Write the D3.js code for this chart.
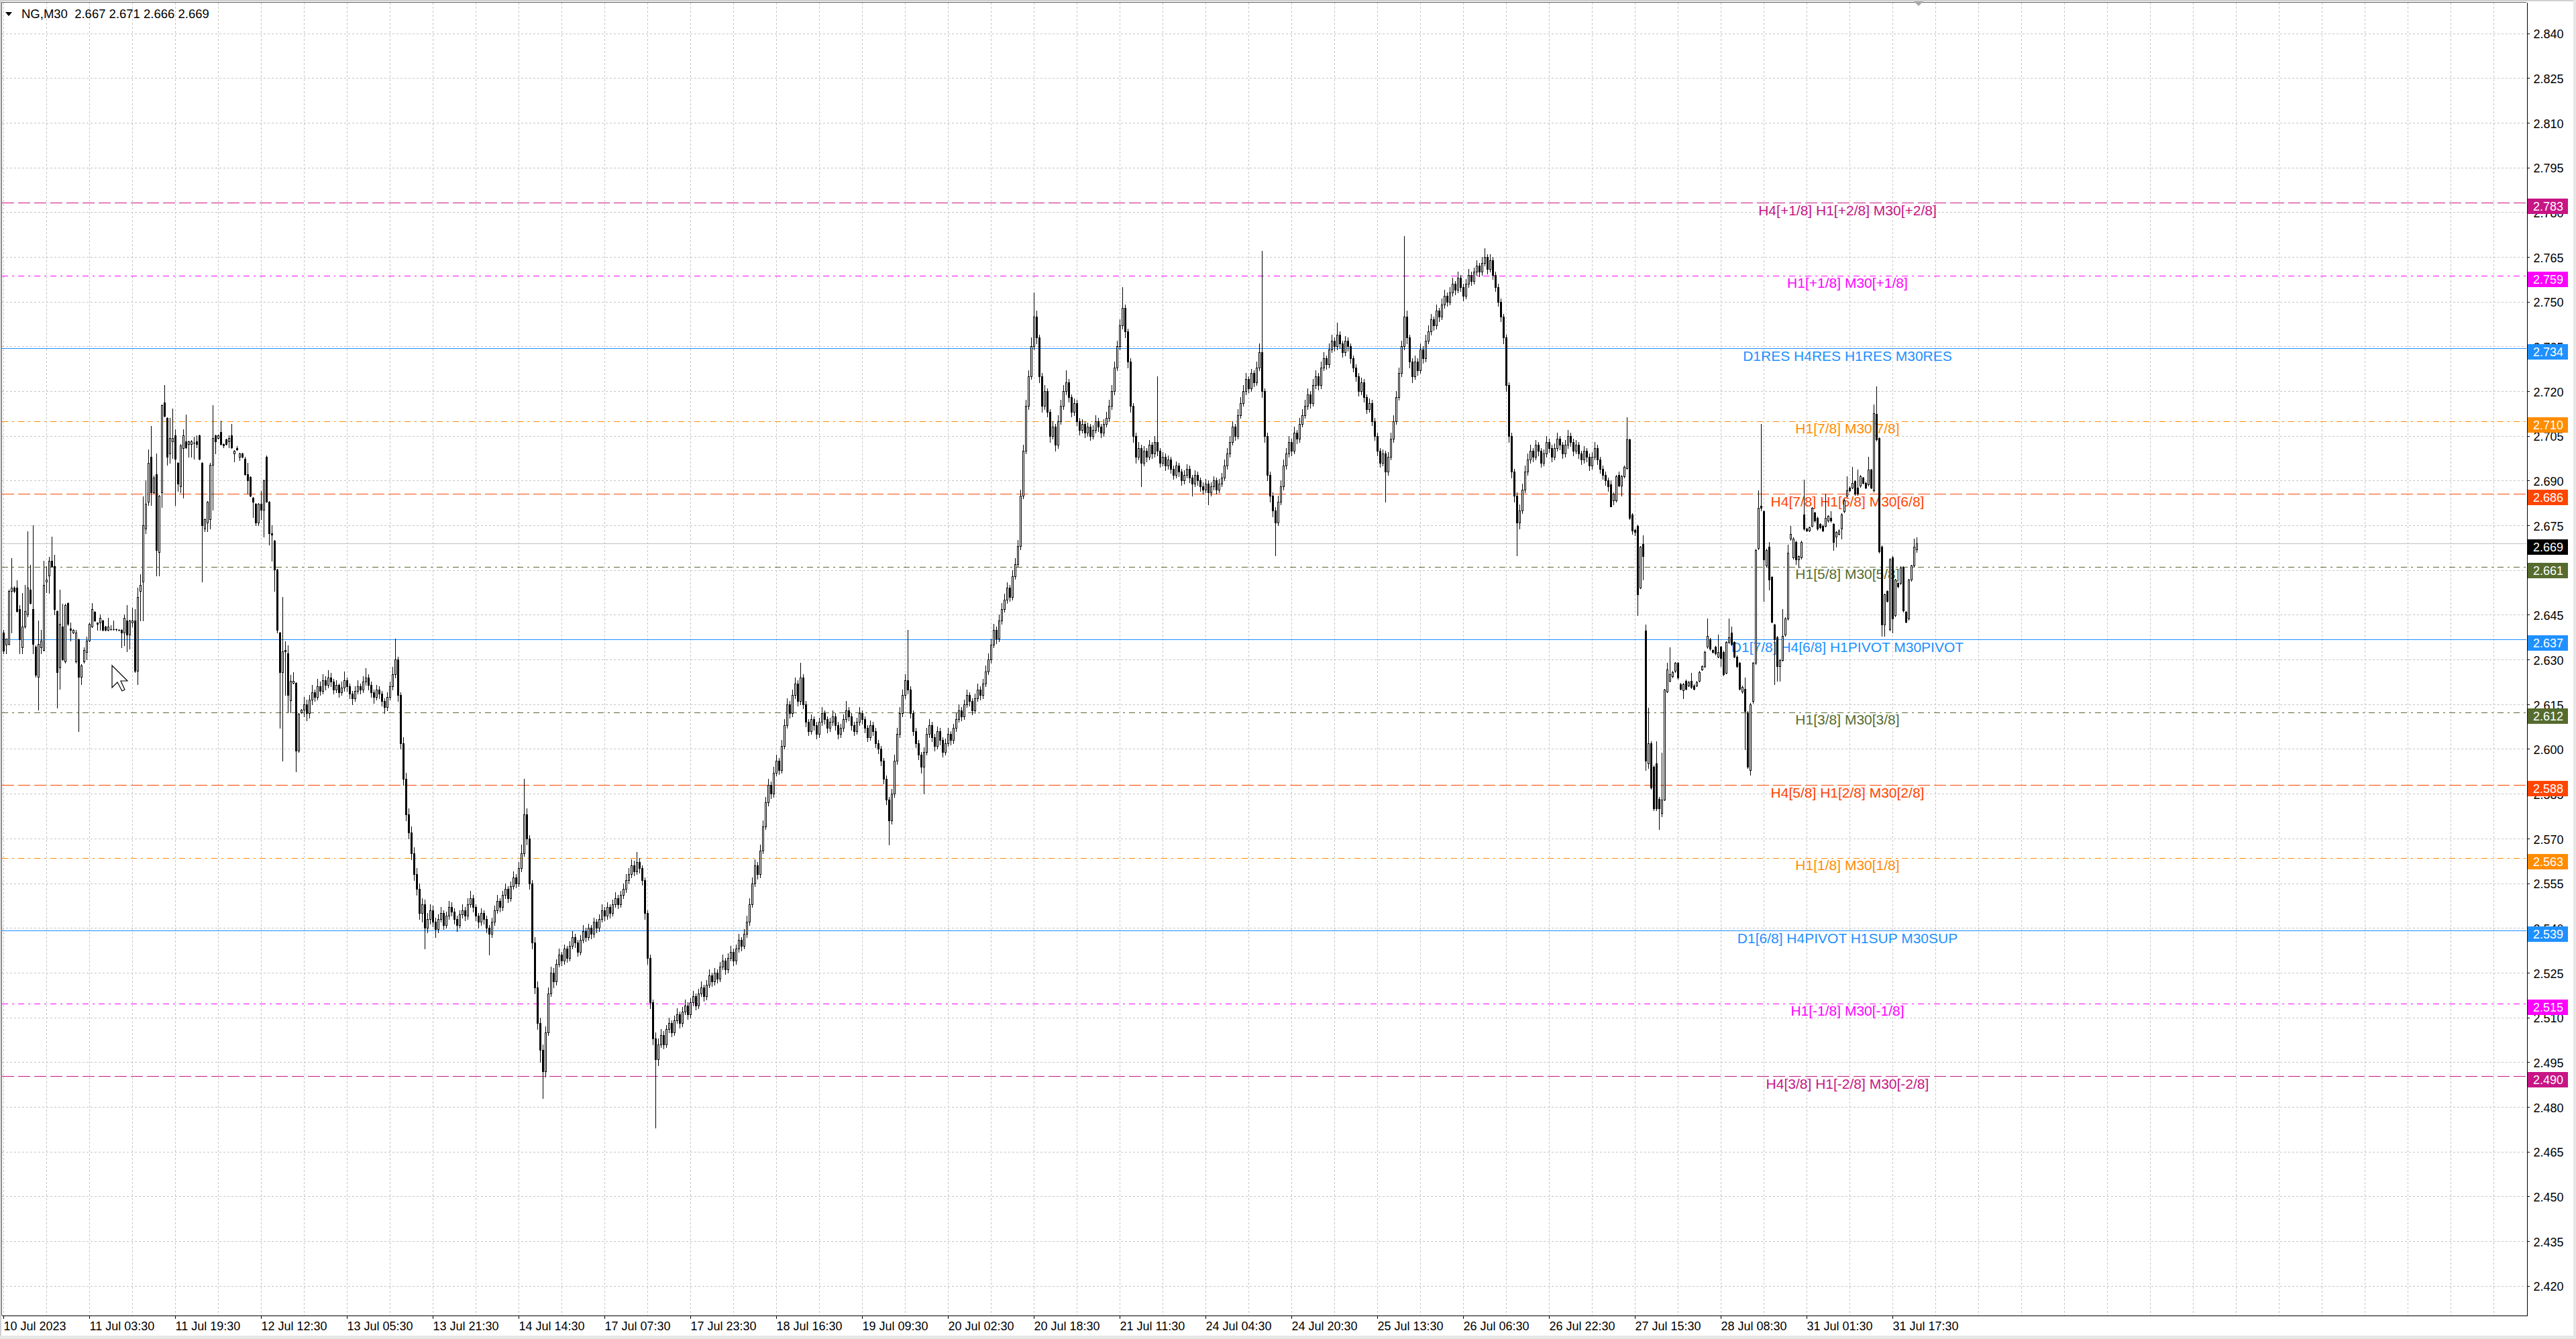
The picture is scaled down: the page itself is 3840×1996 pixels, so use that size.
<!DOCTYPE html>
<html><head><meta charset="utf-8">
<script src="https://cdn.jsdelivr.net/npm/d3@7"></script>
<style>
html,body{margin:0;padding:0;background:#fff;}
svg{display:block;}
</style></head><body>
<svg id="chart" width="3840" height="1996"></svg>
<script>
// ---------------- data ----------------
const symbolTitle = "NG,M30";
const lastOHLC = [2.667, 2.671, 2.666, 2.669];
const currentPrice = 2.669;

const timeLabels = ["10 Jul 2023","11 Jul 03:30","11 Jul 19:30","12 Jul 12:30","13 Jul 05:30","13 Jul 21:30",
  "14 Jul 14:30","17 Jul 07:30","17 Jul 23:30","18 Jul 16:30","19 Jul 09:30","20 Jul 02:30","20 Jul 18:30",
  "21 Jul 11:30","24 Jul 04:30","24 Jul 20:30","25 Jul 13:30","26 Jul 06:30","26 Jul 22:30","27 Jul 15:30",
  "28 Jul 08:30","31 Jul 01:30","31 Jul 17:30"];

const priceTicks = [2.420,2.435,2.450,2.465,2.480,2.495,2.510,2.525,2.540,2.555,2.570,2.585,2.600,2.615,
  2.630,2.645,2.660,2.675,2.690,2.705,2.720,2.735,2.750,2.765,2.780,2.795,2.810,2.825,2.840];

const levelValues = [2.783203125,2.7587890625,2.734375,2.7099609375,2.685546875,2.6611328125,2.63671875,
  2.6123046875,2.587890625,2.5634765625,2.5390625,2.5146484375,2.490234375];
const levelOctaves = ["+2/8","+1/8","8/8","7/8","6/8","5/8","4/8","3/8","2/8","1/8","0/8","-1/8","-2/8"];
const levelNames = ["H4[+1/8] H1[+2/8] M30[+2/8]","H1[+1/8] M30[+1/8]","D1RES H4RES H1RES M30RES",
  "H1[7/8] M30[7/8]","H4[7/8] H1[6/8] M30[6/8]","H1[5/8] M30[5/8]","D1[7/8] H4[6/8] H1PIVOT M30PIVOT",
  "H1[3/8] M30[3/8]","H4[5/8] H1[2/8] M30[2/8]","H1[1/8] M30[1/8]","D1[6/8] H4PIVOT H1SUP M30SUP",
  "H1[-1/8] M30[-1/8]","H4[3/8] H1[-2/8] M30[-2/8]"];

// M30 candles, oldest first (714 bars)
const opens = [
2.639,2.635,2.6352,2.6530,2.6541,2.6541,2.6470,2.6340,2.6411,2.6451,
2.6534,2.6470,2.6344,2.6241,2.6340,2.6332,2.6561,2.6581,2.6632,2.6613,
2.6462,2.6273,2.6411,2.6293,2.6490,2.6403,2.6391,2.6293,2.6368,2.6241,
2.6293,2.6324,2.6364,2.6411,2.6459,2.6423,2.6423,2.6431,2.6411,2.6399,
2.6402,2.6401,2.6401,2.6400,2.6399,2.6391,2.6431,2.6383,2.6423,2.6431,
2.6261,2.6530,2.6561,2.6739,2.6830,2.6980,2.6861,2.6921,2.6660,2.6861,
2.7162,2.7110,2.6992,2.7031,2.7051,2.6960,2.6881,2.7008,2.7031,2.7023,
2.7023,2.7027,2.7031,2.7051,2.6960,2.6739,2.6759,2.6771,2.6952,2.7051,
2.7043,2.7063,2.7023,2.7039,2.7031,2.7051,2.6992,2.7008,2.6980,2.6992,
2.6972,2.6921,2.6913,2.6842,2.6822,2.6759,2.6822,2.6802,2.6980,2.6830,
2.6723,2.6699,2.6601,2.6391,2.6257,2.6332,2.6320,2.6162,2.6222,2.6222,
2.5995,2.6123,
2.6131,2.6150,2.6120,2.6165,2.6190,2.6175,2.6210,2.6195,2.6230,2.6215,
2.6240,2.6225,2.6200,2.6215,2.6190,2.6205,2.6230,2.6210,2.6185,2.6170,
2.6195,2.6210,2.6200,2.6225,2.6240,2.6215,2.6190,2.6175,2.6200,2.6185,
2.6160,2.6140,2.6175,2.6210,2.6250,2.6300,2.6180,2.6020,2.5900,2.5780,
2.5720,2.5650,2.5580,2.5530,2.5450,2.5480,2.5400,2.5430,2.5460,2.5420,
2.5395,2.5430,2.5450,2.5410,2.5440,2.5470,2.5455,2.5430,2.5410,2.5445,
2.5460,2.5440,2.5480,2.5500,2.5470,2.5440,2.5420,2.5450,2.5430,2.5400,
2.5380,2.5420,2.5460,2.5490,2.5470,2.5510,2.5530,2.5500,2.5540,2.5570,
2.5550,2.5600,2.5650,2.5780,2.5700,2.5550,2.5350,2.5200,2.5080,2.4990,
2.4920,2.5050,2.5180,2.5250,2.5220,2.5280,2.5310,2.5290,2.5330,2.5300,
2.5340,2.5370,2.5350,2.5320,2.5360,2.5390,2.5370,2.5400,2.5380,2.5420,
2.5400,2.5430,2.5460,2.5440,2.5470,2.5450,2.5480,2.5500,2.5480,2.5510,
2.5530,2.5560,2.5580,2.5610,2.5590,2.5620,2.5600,2.5560,2.5450,2.5300,
2.5150,2.5030,2.4960,2.5010,2.5040,2.5010,2.5060,2.5080,2.5050,2.5090,
2.5110,2.5080,2.5120,2.5140,2.5110,2.5150,2.5170,2.5140,2.5180,2.5200,
2.5170,2.5210,2.5240,2.5220,2.5250,2.5230,2.5270,2.5290,2.5260,2.5300,
2.5320,2.5290,2.5330,2.5360,2.5340,2.5380,2.5420,2.5480,2.5550,2.5610,
2.5580,2.5660,2.5740,2.5820,2.5880,2.5850,2.5920,2.5960,2.5930,2.6010,
2.6080,2.6150,2.6120,2.6180,2.6220,2.6160,2.6240,2.6150,2.6090,2.6060,
2.6100,2.6080,2.6050,2.6090,2.6120,2.6100,2.6070,2.6090,2.6110,2.6080,
2.6050,2.6070,2.6100,2.6130,2.6110,2.6080,2.6060,2.6090,2.6120,2.6100,
2.6070,2.6040,2.6080,2.6060,2.6020,2.6000,2.5960,2.5900,2.5830,2.5760,
2.5850,2.5960,2.6050,2.6120,2.6180,2.6230,2.6200,2.6120,2.6060,2.6020,
2.5980,2.5940,2.5990,2.6050,2.6080,2.6040,2.6010,2.6060,2.6030,2.5990,
2.6020,2.6050,2.6030,2.6070,2.6100,2.6130,2.6110,2.6150,2.6180,2.6160,
2.6130,2.6170,2.6200,2.6180,2.6220,2.6260,2.6300,2.6350,2.6400,2.6370,
2.6430,2.6470,2.6500,2.6540,2.6510,2.6580,2.6620,2.6680,2.6850,2.7000,
2.7150,2.7250,2.7350,2.7450,2.7380,2.7250,2.7150,2.7200,2.7130,2.7050,
2.7080,2.7020,2.7100,2.7150,2.7200,2.7230,2.7180,2.7130,2.7160,2.7100,
2.7070,2.7090,2.7060,2.7080,2.7050,2.7070,2.7100,2.7080,2.7060,2.7090,
2.7110,2.7150,2.7200,2.7280,2.7350,2.7420,2.7480,2.7400,2.7300,2.7150,
2.7050,2.6980,2.7010,2.6960,2.7000,2.6980,2.7020,2.6990,2.7030,2.7000,
2.6960,2.6980,2.6950,2.6970,2.6940,2.6920,2.6950,2.6930,2.6900,2.6920,
2.6940,2.6910,2.6890,2.6920,2.6900,2.6880,2.6870,2.6890,2.6860,2.6880,
2.6900,2.6870,2.6890,2.6910,2.6950,2.6990,2.7030,2.7080,2.7050,2.7120,
2.7160,2.7200,2.7240,2.7210,2.7260,2.7230,2.7280,2.7330,2.7200,2.7050,
2.6920,2.6850,2.6800,2.6760,2.6830,2.6880,2.6950,2.6990,2.7030,2.7000,
2.7060,2.7040,2.7090,2.7120,2.7150,2.7190,2.7160,2.7220,2.7250,2.7220,
2.7280,2.7310,2.7290,2.7340,2.7370,2.7350,2.7390,2.7360,2.7330,2.7370,
2.7350,2.7310,2.7280,2.7250,2.7200,2.7230,2.7180,2.7140,2.7160,2.7100,
2.7050,2.7000,2.6960,2.6990,2.6930,2.6980,2.7040,2.7100,2.7180,2.7260,
2.7350,2.7450,2.7380,2.7300,2.7250,2.7300,2.7270,2.7340,2.7310,2.7370,
2.7400,2.7440,2.7420,2.7470,2.7450,2.7490,2.7520,2.7500,2.7530,2.7560,
2.7540,2.7580,2.7550,2.7520,2.7560,2.7590,2.7570,2.7600,2.7620,2.7600,
2.7630,2.7650,2.7610,2.7640,2.7590,2.7550,2.7500,2.7450,2.7380,2.7220,
2.7050,2.6930,2.6850,2.6760,2.6800,2.6870,2.6930,2.6970,2.7000,2.6980,
2.7020,2.7000,2.6960,2.6990,2.7030,2.7010,2.6980,2.7010,2.7040,2.7020,
2.6990,2.7020,2.7050,2.7030,2.7000,2.7020,2.6990,2.6970,2.7000,2.6980,
2.6950,2.6980,2.7010,2.6970,2.6940,2.6920,2.6900,
2.6888,2.6834,2.6834,2.6920,2.6883,2.6915,2.6942,2.7038,2.6786,2.6735,
2.6749,2.6540,2.6687,2.6397,2.5951,2.6020,2.5940,2.5951,2.5833,2.5785,
2.5831,2.6192,2.6229,2.6245,2.6261,2.6288,2.6218,2.6197,2.6229,2.6213,
2.6229,2.6213,2.6213,2.6229,2.6267,2.6277,2.6342,2.6368,2.6331,2.6342,
2.6310,2.6342,2.6326,2.6256,2.6358,2.6390,2.6358,2.6310,2.6288,2.6192,
2.6202,2.6122,2.5929,2.6160,2.6288,2.6674,2.6815,2.6797,2.6615,2.6679,
2.6577,2.6417,2.6374,2.6277,2.6299,2.6384,2.6438,2.6706,2.6642,2.6695,
2.6636,2.6642,2.6786,2.6738,2.6733,2.6749,2.6792,2.6775,2.6754,2.6749,
2.6749,2.6765,2.6775,2.6754,2.6711,2.6722,2.6738,2.6797,2.6850,2.6877,
2.6877,2.6899,2.6877,2.6883,2.6909,2.6893,2.6888,2.6936,2.6867,2.7124,
2.7043,2.6679,2.6417,2.6529,2.6401,2.6642,2.6449,2.6556,2.6556,2.6609,
2.6459,2.6438,2.6567,2.6615,2.667];

const highs = [
2.640,2.637,2.6535,2.6640,2.6545,2.6565,2.6482,2.6522,2.6549,2.6731,
2.6617,2.6751,2.6348,2.6431,2.6399,2.6632,2.6613,2.6644,2.6711,2.6652,
2.6465,2.6534,2.6486,2.6486,2.6492,2.6423,2.6401,2.6399,2.6370,2.6285,
2.6340,2.6376,2.6423,2.6490,2.6462,2.6425,2.6451,2.6433,2.6413,2.6439,
2.6415,2.6431,2.6404,2.6402,2.6401,2.6451,2.6482,2.6433,2.6474,2.6470,
2.6541,2.6585,2.6846,2.6901,2.7004,2.7083,2.6917,2.6992,2.6852,2.7156,
2.7221,2.7112,2.7110,2.7142,2.7071,2.6962,2.7023,2.7071,2.7122,2.7033,
2.7035,2.7047,2.7051,2.7053,2.6962,2.6773,2.6832,2.6960,2.7154,2.7053,
2.7053,2.7102,2.7025,2.7041,2.7051,2.7091,2.7002,2.7015,2.6994,2.6994,
2.6980,2.6960,2.6915,2.6844,2.6824,2.6824,2.6865,2.6903,2.6984,2.6832,
2.6751,2.6701,2.6603,2.6393,2.6510,2.6360,2.6348,2.6249,2.6257,2.6224,
2.6121,2.6133,
2.6175,2.6165,2.6180,2.6215,2.6200,2.6235,2.6225,2.6250,2.6245,2.6265,
2.6255,2.6235,2.6230,2.6220,2.6225,2.6260,2.6240,2.6220,2.6195,2.6210,
2.6230,2.6220,2.6245,2.6270,2.6250,2.6225,2.6200,2.6215,2.6210,2.6195,
2.6170,2.6190,2.6225,2.6275,2.6370,2.6310,2.6190,2.6040,2.5920,2.5800,
2.5740,2.5670,2.5600,2.5550,2.5500,2.5495,2.5450,2.5480,2.5475,2.5435,
2.5445,2.5470,2.5460,2.5455,2.5490,2.5485,2.5465,2.5440,2.5460,2.5480,
2.5470,2.5500,2.5525,2.5510,2.5480,2.5450,2.5465,2.5460,2.5440,2.5410,
2.5435,2.5475,2.5510,2.5500,2.5525,2.5550,2.5540,2.5555,2.5590,2.5580,
2.5620,2.5680,2.5900,2.5800,2.5710,2.5560,2.5370,2.5220,2.5100,2.5010,
2.5070,2.5200,2.5270,2.5265,2.5295,2.5330,2.5320,2.5345,2.5340,2.5355,
2.5390,2.5380,2.5360,2.5375,2.5410,2.5400,2.5415,2.5410,2.5435,2.5430,
2.5445,2.5480,2.5470,2.5485,2.5480,2.5495,2.5520,2.5510,2.5525,2.5550,
2.5580,2.5600,2.5630,2.5625,2.5655,2.5635,2.5610,2.5570,2.5460,2.5310,
2.5160,2.5050,2.5030,2.5060,2.5055,2.5075,2.5100,2.5090,2.5105,2.5130,
2.5120,2.5135,2.5160,2.5150,2.5165,2.5190,2.5180,2.5195,2.5220,2.5210,
2.5225,2.5260,2.5250,2.5265,2.5260,2.5285,2.5310,2.5300,2.5315,2.5340,
2.5330,2.5345,2.5380,2.5370,2.5395,2.5440,2.5500,2.5570,2.5630,2.5620,
2.5680,2.5760,2.5840,2.5900,2.5890,2.5940,2.5980,2.5970,2.6030,2.6100,
2.6170,2.6160,2.6200,2.6240,2.6230,2.6290,2.6250,2.6160,2.6100,2.6115,
2.6110,2.6090,2.6105,2.6140,2.6130,2.6110,2.6105,2.6130,2.6120,2.6090,
2.6085,2.6115,2.6160,2.6140,2.6120,2.6090,2.6105,2.6140,2.6130,2.6110,
2.6080,2.6095,2.6090,2.6070,2.6030,2.6010,2.5970,2.5910,2.5840,2.5865,
2.5980,2.6070,2.6140,2.6200,2.6250,2.6400,2.6210,2.6130,2.6070,2.6030,
2.5990,2.6005,2.6070,2.6100,2.6090,2.6050,2.6075,2.6070,2.6040,2.6035,
2.6070,2.6060,2.6085,2.6120,2.6150,2.6140,2.6165,2.6200,2.6190,2.6170,
2.6185,2.6220,2.6210,2.6235,2.6280,2.6320,2.6370,2.6420,2.6410,2.6450,
2.6490,2.6520,2.6560,2.6550,2.6600,2.6640,2.6700,2.6870,2.7020,2.7170,
2.7270,2.7380,2.7530,2.7470,2.7390,2.7260,2.7220,2.7210,2.7140,2.7100,
2.7090,2.7120,2.7170,2.7220,2.7270,2.7240,2.7190,2.7175,2.7170,2.7110,
2.7105,2.7100,2.7095,2.7090,2.7085,2.7120,2.7110,2.7090,2.7105,2.7130,
2.7170,2.7220,2.7300,2.7370,2.7440,2.7550,2.7490,2.7410,2.7310,2.7160,
2.7060,2.7030,2.7020,2.7015,2.7010,2.7035,2.7030,2.7050,2.7250,2.7010,
2.6995,2.6990,2.6985,2.6980,2.6950,2.6965,2.6960,2.6940,2.6935,2.6955,
2.6950,2.6920,2.6935,2.6930,2.6910,2.6895,2.6905,2.6900,2.6895,2.6915,
2.6910,2.6905,2.6925,2.6970,2.7010,2.7050,2.7100,2.7090,2.7140,2.7180,
2.7220,2.7260,2.7250,2.7275,2.7270,2.7300,2.7360,2.7670,2.7210,2.7060,
2.6930,2.6860,2.6810,2.6850,2.6900,2.6970,2.7010,2.7050,2.7040,2.7080,
2.7070,2.7110,2.7140,2.7170,2.7210,2.7200,2.7240,2.7270,2.7260,2.7300,
2.7330,2.7320,2.7360,2.7390,2.7380,2.7430,2.7400,2.7370,2.7385,2.7380,
2.7360,2.7320,2.7290,2.7260,2.7245,2.7240,2.7190,2.7175,2.7170,2.7110,
2.7060,2.7010,2.7005,2.7000,2.6995,2.7060,2.7120,2.7200,2.7280,2.7370,
2.7720,2.7470,2.7390,2.7310,2.7320,2.7310,2.7360,2.7350,2.7390,2.7420,
2.7460,2.7450,2.7490,2.7480,2.7510,2.7540,2.7530,2.7550,2.7580,2.7570,
2.7600,2.7590,2.7560,2.7575,2.7610,2.7600,2.7615,2.7640,2.7630,2.7650,
2.7680,2.7660,2.7660,2.7650,2.7600,2.7560,2.7510,2.7460,2.7390,2.7230,
2.7060,2.6940,2.6860,2.6820,2.6890,2.6950,2.6990,2.7020,2.7010,2.7035,
2.7030,2.7010,2.7005,2.7050,2.7040,2.7020,2.7025,2.7060,2.7050,2.7030,
2.7035,2.7070,2.7060,2.7040,2.7035,2.7030,2.7000,2.7015,2.7010,2.6990,
2.6995,2.7030,2.7020,2.6980,2.6950,2.6930,2.6910,
2.6900,2.6860,2.6920,2.6930,2.6920,2.6950,2.7113,2.7040,2.6790,2.6740,
2.6752,2.6681,2.6717,2.6417,2.6138,2.6025,2.5945,2.6026,2.5840,2.5988,
2.6202,2.6288,2.6340,2.6262,2.6292,2.6292,2.6222,2.6222,2.6233,2.6228,
2.6256,2.6216,2.6228,2.6262,2.6280,2.6330,2.6438,2.6372,2.6334,2.6345,
2.6384,2.6345,2.6330,2.6362,2.6438,2.6411,2.6362,2.6314,2.6292,2.6212,
2.6240,2.6126,2.6153,2.6292,2.6672,2.6867,2.7091,2.6800,2.6672,2.6695,
2.6580,2.6420,2.6378,2.6303,2.6470,2.6442,2.6684,2.6749,2.6710,2.6699,
2.6650,2.6699,2.6904,2.6741,2.6746,2.6812,2.6796,2.6779,2.6757,2.6752,
2.6856,2.6784,2.6797,2.6757,2.6730,2.6736,2.6790,2.6838,2.6915,2.6880,
2.6947,2.6902,2.6936,2.6918,2.6912,2.6896,2.6979,2.6940,2.7156,2.7215,
2.7046,2.6682,2.6521,2.6532,2.6640,2.6646,2.6570,2.6559,2.6612,2.6612,
2.6462,2.6570,2.6618,2.6706,2.671];

const lows = [
2.632,2.632,2.6350,2.6391,2.6525,2.6460,2.6320,2.6320,2.6405,2.6445,
2.6488,2.6320,2.6241,2.6131,2.6320,2.6330,2.6526,2.6522,2.6610,2.6451,
2.6139,2.6202,2.6298,2.6290,2.6415,2.6364,2.6389,2.6290,2.6060,2.6218,
2.6290,2.6301,2.6362,2.6409,2.6428,2.6399,2.6399,2.6397,2.6397,2.6397,
2.6399,2.6399,2.6398,2.6397,2.6340,2.6348,2.6328,2.6336,2.6411,2.6258,
2.6218,2.6431,2.6431,2.6723,2.6818,2.6818,2.6858,2.6581,2.6581,2.6810,
2.7115,2.6952,2.6960,2.6976,2.6818,2.6865,2.6861,2.6842,2.7010,2.6980,
2.6980,2.6972,2.7012,2.6970,2.6561,2.6731,2.6731,2.6739,2.6802,2.6992,
2.7041,2.7021,2.7012,2.7021,2.7012,2.7010,2.6964,2.7002,2.6968,2.6978,
2.6919,2.6857,2.6848,2.6778,2.6751,2.6751,2.6771,2.6711,2.6828,2.6684,
2.6632,2.6530,2.6391,2.6071,2.5960,2.6182,2.6123,2.6123,2.6220,2.5925,
2.5990,2.6121,
2.6110,2.6095,2.6105,2.6150,2.6160,2.6165,2.6180,2.6185,2.6200,2.6205,
2.6210,2.6185,2.6190,2.6175,2.6180,2.6195,2.6195,2.6170,2.6150,2.6160,
2.6185,2.6185,2.6190,2.6215,2.6200,2.6175,2.6155,2.6165,2.6170,2.6145,
2.6120,2.6130,2.6165,2.6200,2.6240,2.6160,2.6000,2.5880,2.5760,2.5700,
2.5630,2.5560,2.5510,2.5430,2.5420,2.5330,2.5385,2.5415,2.5405,2.5370,
2.5385,2.5420,2.5395,2.5400,2.5430,2.5440,2.5415,2.5390,2.5400,2.5435,
2.5425,2.5430,2.5470,2.5455,2.5425,2.5400,2.5410,2.5415,2.5385,2.5310,
2.5370,2.5410,2.5450,2.5455,2.5460,2.5500,2.5485,2.5490,2.5530,2.5535,
2.5540,2.5590,2.5640,2.5680,2.5530,2.5330,2.5180,2.5060,2.4950,2.4830,
2.4900,2.5040,2.5170,2.5200,2.5210,2.5270,2.5275,2.5280,2.5285,2.5290,
2.5330,2.5335,2.5305,2.5310,2.5350,2.5355,2.5360,2.5365,2.5370,2.5385,
2.5390,2.5420,2.5425,2.5430,2.5435,2.5440,2.5470,2.5465,2.5470,2.5500,
2.5520,2.5550,2.5570,2.5575,2.5580,2.5585,2.5545,2.5430,2.5280,2.5130,
2.5010,2.4730,2.4940,2.5000,2.4995,2.5000,2.5050,2.5035,2.5040,2.5080,
2.5065,2.5070,2.5110,2.5095,2.5100,2.5140,2.5125,2.5130,2.5170,2.5155,
2.5160,2.5200,2.5205,2.5210,2.5215,2.5220,2.5260,2.5245,2.5250,2.5290,
2.5275,2.5280,2.5320,2.5325,2.5330,2.5370,2.5410,2.5470,2.5540,2.5565,
2.5570,2.5650,2.5730,2.5810,2.5835,2.5840,2.5910,2.5915,2.5920,2.6000,
2.6070,2.6105,2.6110,2.6170,2.6145,2.6150,2.6135,2.6075,2.6045,2.6050,
2.6065,2.6035,2.6040,2.6080,2.6085,2.6055,2.6060,2.6080,2.6065,2.6035,
2.6040,2.6060,2.6090,2.6095,2.6065,2.6045,2.6050,2.6080,2.6085,2.6055,
2.6025,2.6030,2.6045,2.6005,2.5985,2.5945,2.5885,2.5815,2.5680,2.5750,
2.5840,2.5950,2.6040,2.6110,2.6170,2.6185,2.6105,2.6045,2.6005,2.5965,
2.5920,2.5850,2.5980,2.6040,2.6025,2.5995,2.6000,2.6015,2.5975,2.5980,
2.6010,2.6015,2.6020,2.6060,2.6090,2.6095,2.6100,2.6140,2.6145,2.6115,
2.6120,2.6160,2.6165,2.6170,2.6210,2.6250,2.6290,2.6340,2.6355,2.6360,
2.6420,2.6460,2.6490,2.6495,2.6500,2.6570,2.6610,2.6670,2.6840,2.6990,
2.7140,2.7240,2.7340,2.7360,2.7230,2.7130,2.7140,2.7115,2.7030,2.7040,
2.7000,2.7010,2.7090,2.7140,2.7190,2.7165,2.7115,2.7120,2.7085,2.7055,
2.7060,2.7045,2.7050,2.7035,2.7040,2.7060,2.7065,2.7045,2.7050,2.7080,
2.7100,2.7140,2.7190,2.7270,2.7340,2.7410,2.7380,2.7280,2.7130,2.7030,
2.6960,2.6970,2.6880,2.6950,2.6965,2.6970,2.6975,2.6980,2.6985,2.6945,
2.6950,2.6935,2.6940,2.6925,2.6905,2.6910,2.6915,2.6885,2.6890,2.6910,
2.6895,2.6850,2.6880,2.6885,2.6865,2.6855,2.6860,2.6820,2.6850,2.6870,
2.6855,2.6860,2.6880,2.6900,2.6940,2.6980,2.7020,2.7035,2.7040,2.7110,
2.7150,2.7190,2.7195,2.7200,2.7215,2.7220,2.7270,2.7180,2.7030,2.6900,
2.6830,2.6780,2.6650,2.6750,2.6820,2.6870,2.6940,2.6980,2.6985,2.6990,
2.7025,2.7030,2.7080,2.7110,2.7140,2.7145,2.7150,2.7210,2.7205,2.7210,
2.7270,2.7275,2.7280,2.7330,2.7335,2.7340,2.7345,2.7315,2.7320,2.7335,
2.7295,2.7265,2.7235,2.7185,2.7190,2.7165,2.7125,2.7130,2.7085,2.7035,
2.6985,2.6945,2.6950,2.6830,2.6920,2.6970,2.7030,2.7090,2.7170,2.7250,
2.7340,2.7360,2.7280,2.7230,2.7240,2.7255,2.7260,2.7295,2.7300,2.7360,
2.7390,2.7405,2.7410,2.7435,2.7440,2.7480,2.7485,2.7490,2.7520,2.7525,
2.7530,2.7535,2.7505,2.7510,2.7550,2.7555,2.7560,2.7590,2.7585,2.7590,
2.7620,2.7595,2.7600,2.7575,2.7535,2.7485,2.7435,2.7360,2.7200,2.7030,
2.6910,2.6830,2.6650,2.6740,2.6790,2.6860,2.6920,2.6960,2.6965,2.6970,
2.6985,2.6945,2.6950,2.6980,2.6995,2.6965,2.6970,2.7000,2.7005,2.6975,
2.6980,2.7010,2.7015,2.6985,2.6990,2.6975,2.6955,2.6960,2.6965,2.6935,
2.6940,2.6970,2.6955,2.6925,2.6905,2.6885,2.6865,
2.6813,2.6820,2.6830,2.6880,2.6850,2.6910,2.6940,2.6770,2.6720,2.6717,
2.6449,2.6538,2.6567,2.5929,2.5935,2.5865,2.5795,2.5795,2.5731,2.5774,
2.5828,2.6190,2.6225,2.6240,2.6258,2.6235,2.6198,2.6170,2.6198,2.6210,
2.6204,2.6198,2.6210,2.6226,2.6264,2.6274,2.6338,2.6332,2.6322,2.6316,
2.6306,2.6277,2.6247,2.6252,2.6354,2.6348,2.6306,2.6273,2.6198,2.6188,
2.5999,2.5935,2.5913,2.6155,2.6284,2.6670,2.6800,2.6497,2.6610,2.6534,
2.6424,2.6218,2.6229,2.6229,2.6295,2.6380,2.6434,2.6700,2.6638,2.6620,
2.6609,2.6638,2.6734,2.6729,2.6729,2.6745,2.6761,2.6734,2.6740,2.6729,
2.6745,2.6761,2.6761,2.6668,2.6679,2.6718,2.6706,2.6793,2.6846,2.6863,
2.6873,2.6852,2.6852,2.6879,2.6889,2.6873,2.6884,2.6873,2.6863,2.7034,
2.6659,2.6379,2.6379,2.6494,2.6397,2.6390,2.6445,2.6541,2.6552,2.6461,
2.6424,2.6434,2.6563,2.6611,2.666];

const closes = [
2.633,2.637,2.6530,2.6541,2.6530,2.6462,2.6368,2.6411,2.6462,2.6541,
2.6490,2.6352,2.6249,2.6352,2.6364,2.6549,2.6569,2.6632,2.6613,2.6470,
2.6257,2.6419,2.6301,2.6482,2.6419,2.6399,2.6399,2.6391,2.6241,2.6281,
2.6332,2.6364,2.6419,2.6470,2.6431,2.6419,2.6439,2.6399,2.6399,2.6411,
2.6401,2.6402,2.6401,2.6399,2.6391,2.6439,2.6383,2.6431,2.6431,2.6261,
2.6510,2.6549,2.6751,2.6822,2.6960,2.6861,2.6909,2.6668,2.6850,2.7154,
2.7118,2.6980,2.7043,2.7043,2.6972,2.6889,2.7019,2.7051,2.7012,2.7031,
2.7031,2.7028,2.7023,2.6972,2.6751,2.6771,2.6830,2.6952,2.7043,2.7031,
2.7051,2.7023,2.7019,2.7023,2.7043,2.7012,2.7000,2.7004,2.6992,2.6980,
2.6921,2.6901,2.6850,2.6830,2.6759,2.6822,2.6802,2.6901,2.6830,2.6723,
2.6719,2.6601,2.6399,2.6257,2.6328,2.6328,2.6182,2.6229,2.6229,2.5995,
2.6119,2.6131,
2.6150,2.6120,2.6165,2.6190,2.6175,2.6210,2.6195,2.6230,2.6215,2.6240,
2.6225,2.6200,2.6215,2.6190,2.6205,2.6230,2.6210,2.6185,2.6170,2.6195,
2.6210,2.6200,2.6225,2.6240,2.6215,2.6190,2.6175,2.6200,2.6185,2.6160,
2.6140,2.6175,2.6210,2.6250,2.6300,2.6180,2.6020,2.5900,2.5780,2.5720,
2.5650,2.5580,2.5530,2.5450,2.5480,2.5400,2.5430,2.5460,2.5420,2.5395,
2.5430,2.5450,2.5410,2.5440,2.5470,2.5455,2.5430,2.5410,2.5445,2.5460,
2.5440,2.5480,2.5500,2.5470,2.5440,2.5420,2.5450,2.5430,2.5400,2.5380,
2.5420,2.5460,2.5490,2.5470,2.5510,2.5530,2.5500,2.5540,2.5570,2.5550,
2.5600,2.5650,2.5780,2.5700,2.5550,2.5350,2.5200,2.5080,2.4990,2.4920,
2.5050,2.5180,2.5250,2.5220,2.5280,2.5310,2.5290,2.5330,2.5300,2.5340,
2.5370,2.5350,2.5320,2.5360,2.5390,2.5370,2.5400,2.5380,2.5420,2.5400,
2.5430,2.5460,2.5440,2.5470,2.5450,2.5480,2.5500,2.5480,2.5510,2.5530,
2.5560,2.5580,2.5610,2.5590,2.5620,2.5600,2.5560,2.5450,2.5300,2.5150,
2.5030,2.4960,2.5010,2.5040,2.5010,2.5060,2.5080,2.5050,2.5090,2.5110,
2.5080,2.5120,2.5140,2.5110,2.5150,2.5170,2.5140,2.5180,2.5200,2.5170,
2.5210,2.5240,2.5220,2.5250,2.5230,2.5270,2.5290,2.5260,2.5300,2.5320,
2.5290,2.5330,2.5360,2.5340,2.5380,2.5420,2.5480,2.5550,2.5610,2.5580,
2.5660,2.5740,2.5820,2.5880,2.5850,2.5920,2.5960,2.5930,2.6010,2.6080,
2.6150,2.6120,2.6180,2.6220,2.6160,2.6240,2.6150,2.6090,2.6060,2.6100,
2.6080,2.6050,2.6090,2.6120,2.6100,2.6070,2.6090,2.6110,2.6080,2.6050,
2.6070,2.6100,2.6130,2.6110,2.6080,2.6060,2.6090,2.6120,2.6100,2.6070,
2.6040,2.6080,2.6060,2.6020,2.6000,2.5960,2.5900,2.5830,2.5760,2.5850,
2.5960,2.6050,2.6120,2.6180,2.6230,2.6200,2.6120,2.6060,2.6020,2.5980,
2.5940,2.5990,2.6050,2.6080,2.6040,2.6010,2.6060,2.6030,2.5990,2.6020,
2.6050,2.6030,2.6070,2.6100,2.6130,2.6110,2.6150,2.6180,2.6160,2.6130,
2.6170,2.6200,2.6180,2.6220,2.6260,2.6300,2.6350,2.6400,2.6370,2.6430,
2.6470,2.6500,2.6540,2.6510,2.6580,2.6620,2.6680,2.6850,2.7000,2.7150,
2.7250,2.7350,2.7450,2.7380,2.7250,2.7150,2.7200,2.7130,2.7050,2.7080,
2.7020,2.7100,2.7150,2.7200,2.7230,2.7180,2.7130,2.7160,2.7100,2.7070,
2.7090,2.7060,2.7080,2.7050,2.7070,2.7100,2.7080,2.7060,2.7090,2.7110,
2.7150,2.7200,2.7280,2.7350,2.7420,2.7480,2.7400,2.7300,2.7150,2.7050,
2.6980,2.7010,2.6960,2.7000,2.6980,2.7020,2.6990,2.7030,2.7000,2.6960,
2.6980,2.6950,2.6970,2.6940,2.6920,2.6950,2.6930,2.6900,2.6920,2.6940,
2.6910,2.6890,2.6920,2.6900,2.6880,2.6870,2.6890,2.6860,2.6880,2.6900,
2.6870,2.6890,2.6910,2.6950,2.6990,2.7030,2.7080,2.7050,2.7120,2.7160,
2.7200,2.7240,2.7210,2.7260,2.7230,2.7280,2.7330,2.7200,2.7050,2.6920,
2.6850,2.6800,2.6760,2.6830,2.6880,2.6950,2.6990,2.7030,2.7000,2.7060,
2.7040,2.7090,2.7120,2.7150,2.7190,2.7160,2.7220,2.7250,2.7220,2.7280,
2.7310,2.7290,2.7340,2.7370,2.7350,2.7390,2.7360,2.7330,2.7370,2.7350,
2.7310,2.7280,2.7250,2.7200,2.7230,2.7180,2.7140,2.7160,2.7100,2.7050,
2.7000,2.6960,2.6990,2.6930,2.6980,2.7040,2.7100,2.7180,2.7260,2.7350,
2.7450,2.7380,2.7300,2.7250,2.7300,2.7270,2.7340,2.7310,2.7370,2.7400,
2.7440,2.7420,2.7470,2.7450,2.7490,2.7520,2.7500,2.7530,2.7560,2.7540,
2.7580,2.7550,2.7520,2.7560,2.7590,2.7570,2.7600,2.7620,2.7600,2.7630,
2.7650,2.7610,2.7640,2.7590,2.7550,2.7500,2.7450,2.7380,2.7220,2.7050,
2.6930,2.6850,2.6760,2.6800,2.6870,2.6930,2.6970,2.7000,2.6980,2.7020,
2.7000,2.6960,2.6990,2.7030,2.7010,2.6980,2.7010,2.7040,2.7020,2.6990,
2.7020,2.7050,2.7030,2.7000,2.7020,2.6990,2.6970,2.7000,2.6980,2.6950,
2.6980,2.7010,2.6970,2.6940,2.6920,2.6900,2.6880,
2.6813,2.6856,2.6915,2.6883,2.6915,2.6947,2.7038,2.6775,2.6733,2.6727,
2.6518,2.6679,2.6647,2.5961,2.6020,2.5870,2.5801,2.5801,2.5801,2.5831,
2.6199,2.6267,2.6251,2.6258,2.6288,2.6240,2.6202,2.6218,2.6202,2.6224,
2.6208,2.6202,2.6224,2.6258,2.6277,2.6326,2.6379,2.6336,2.6326,2.6320,
2.6326,2.6304,2.6251,2.6358,2.6374,2.6352,2.6310,2.6277,2.6202,2.6208,
2.6127,2.5940,2.6149,2.6288,2.6668,2.6808,2.6808,2.6636,2.6668,2.6567,
2.6427,2.6368,2.6277,2.6299,2.6379,2.6438,2.6658,2.6722,2.6706,2.6636,
2.6647,2.6695,2.6738,2.6733,2.6743,2.6808,2.6765,2.6738,2.6743,2.6733,
2.6775,2.6781,2.6765,2.6695,2.6727,2.6733,2.6786,2.6834,2.6867,2.6867,
2.6893,2.6856,2.6856,2.6915,2.6893,2.6877,2.6936,2.6877,2.7126,2.7038,
2.6663,2.6417,2.6518,2.6497,2.6636,2.6438,2.6567,2.6545,2.6609,2.6465,
2.6427,2.6567,2.6615,2.6679,2.669];

// ---------------- layout / styles ----------------
const W = 3840, H = 1996;
const plot = {left: 2.5, top: 3.5, right: 3766, bottom: 1961};
const barsPerLabel = 32, barsPerGrid = 16;
const FONT = '"Liberation Sans", Arial, Helvetica, sans-serif';

const octaveStyle = {
  "+2/8": {c:"#C71585", d:"18,6"}, "-2/8": {c:"#C71585", d:"18,6"},
  "+1/8": {c:"#FF00FF", d:"9,6,3,6"}, "-1/8": {c:"#FF00FF", d:"9,6,3,6"},
  "8/8": {c:"#1E90FF", d:null}, "4/8": {c:"#1E90FF", d:null}, "0/8": {c:"#1E90FF", d:null},
  "7/8": {c:"#FF8C00", d:"9,6,3,6"}, "1/8": {c:"#FF8C00", d:"9,6,3,6"},
  "6/8": {c:"#FF4500", d:"18,6"}, "2/8": {c:"#FF4500", d:"18,6"},
  "5/8": {c:"#556B2F", d:"9,6,3,6"}, "3/8": {c:"#556B2F", d:"9,6,3,6"}
};

const svg = d3.select("#chart");
const x = d3.scaleLinear().domain([0, 940]).range([5, 3765]);
const y = d3.scaleLinear().domain([2.41, 2.8504]).range([plot.bottom, plot.top]);
const px = v => Math.round(v) + 0.5;

svg.append("rect").attr("width", W).attr("height", H).attr("fill", "#ffffff");
svg.append("rect").attr("x",0).attr("y",0).attr("width",W).attr("height",2).attr("fill","#d0d0d0");
svg.append("rect").attr("x",0).attr("y",0).attr("width",2).attr("height",H).attr("fill","#d0d0d0");
svg.append("rect").attr("x",0).attr("y",H-5).attr("width",W).attr("height",5).attr("fill","#e6e6e6");
svg.append("rect").attr("x",W-4).attr("y",0).attr("width",4).attr("height",H).attr("fill","#e6e6e6");

// grid
const grid = svg.append("g").attr("shape-rendering","crispEdges")
  .attr("stroke","#c4c4c4").attr("stroke-dasharray","3,3").attr("fill","none");
grid.selectAll("line.h").data(priceTicks).join("line").attr("class","h")
  .attr("x1", plot.left).attr("x2", plot.right)
  .attr("y1", d => px(y(d))).attr("y2", d => px(y(d)));
grid.selectAll("line.v").data(d3.range(0, 941, barsPerGrid)).join("line").attr("class","v")
  .attr("y1", plot.top).attr("y2", plot.bottom)
  .attr("x1", d => px(x(d))).attr("x2", d => px(x(d)));

// current price line
svg.append("line").attr("shape-rendering","crispEdges")
  .attr("x1", plot.left).attr("x2", plot.right)
  .attr("y1", px(y(currentPrice))).attr("y2", px(y(currentPrice)))
  .attr("stroke", "#c0c0c0");

// level lines
const lv = levelValues.map((v,k) => ({v, oct: levelOctaves[k], name: levelNames[k]}));
svg.append("g").attr("shape-rendering","crispEdges").selectAll("line").data(lv).join("line")
  .attr("x1", plot.left).attr("x2", plot.right)
  .attr("y1", d => px(y(d.v))).attr("y2", d => px(y(d.v)))
  .attr("stroke", d => octaveStyle[d.oct].c)
  .attr("stroke-dasharray", d => octaveStyle[d.oct].d);
svg.append("g").selectAll("text").data(lv).join("text")
  .attr("x", 2754).attr("y", d => y(d.v) + 18.5)
  .attr("text-anchor","middle")
  .attr("font-family", FONT).attr("font-size", 21)
  .attr("fill", d => octaveStyle[d.oct].c)
  .text(d => d.name);

// candles
const bars = opens.map((o,i) => ({b: i, o, h: highs[i], l: lows[i], c: closes[i]}));
const cg = svg.append("g").attr("shape-rendering","crispEdges");
cg.selectAll("line.wick").data(bars).join("line").attr("class","wick")
  .attr("x1", d => px(x(d.b))).attr("x2", d => px(x(d.b)))
  .attr("y1", d => Math.round(y(d.h))).attr("y2", d => Math.round(y(d.l)) + 1)
  .attr("stroke","#000");
bars.forEach(d => {
  const cx = Math.round(x(d.b));
  const top = Math.round(y(Math.max(d.o, d.c)));
  const bot = Math.round(y(Math.min(d.o, d.c)));
  if (bot - top < 1) {
    cg.append("line").attr("x1", cx - 1).attr("x2", cx + 2)
      .attr("y1", top + 0.5).attr("y2", top + 0.5).attr("stroke", "#000");
  } else if (d.c >= d.o) {
    cg.append("rect").attr("x", cx - 0.5).attr("width", 2)
      .attr("y", top + 0.5).attr("height", bot - top)
      .attr("fill", "#fff").attr("stroke", "#000");
  } else {
    cg.append("rect").attr("x", cx - 1).attr("width", 3)
      .attr("y", top).attr("height", bot - top + 1).attr("fill", "#000");
  }
});

// frame
svg.append("path").attr("shape-rendering","crispEdges")
  .attr("d", `M${plot.left},${plot.bottom}V${plot.top}H${plot.right}`)
  .attr("stroke","#606060").attr("fill","none");

// price axis
const yAxis = d3.axisRight(y).tickValues(priceTicks).tickFormat(d3.format(".3f"))
  .tickSize(4).tickSizeOuter(0).tickPadding(6);
const ya = svg.append("g").attr("transform", `translate(${plot.right + 0.5},0)`).call(yAxis);
ya.select(".domain").attr("stroke","#000").attr("shape-rendering","crispEdges");
ya.selectAll(".tick line").attr("stroke","#000").attr("shape-rendering","crispEdges");
ya.selectAll(".tick text").attr("font-family", FONT).attr("font-size", 18).attr("fill","#000").attr("dy","0.4em");

// time axis
const labelBars = timeLabels.map((t,k) => k * barsPerLabel);
const xAxis = d3.axisBottom(x).tickValues(labelBars).tickFormat((d,k) => timeLabels[k])
  .tickSize(4).tickSizeOuter(0);
const xa = svg.append("g").attr("transform", `translate(0,${plot.bottom + 0.5})`).call(xAxis);
xa.select(".domain").remove();
xa.selectAll(".tick line").attr("stroke","#000").attr("shape-rendering","crispEdges");
xa.selectAll(".tick text").attr("font-family", FONT).attr("font-size", 18).attr("fill","#000")
  .attr("text-anchor","start").attr("x", 0).attr("y", 21.5).attr("dy", 0);
svg.append("line").attr("shape-rendering","crispEdges")
  .attr("x1", plot.left).attr("x2", plot.right + 1)
  .attr("y1", plot.bottom + 0.5).attr("y2", plot.bottom + 0.5).attr("stroke","#000");

// price boxes on the axis
const boxes = lv.map(d => ({v: d.v, c: octaveStyle[d.oct].c}))
  .concat([{v: currentPrice, c: "#000"}]);
const bg = svg.append("g");
bg.selectAll("rect").data(boxes).join("rect").attr("shape-rendering","crispEdges")
  .attr("x", plot.right + 2).attr("width", 60)
  .attr("y", d => Math.round(y(d.v)) - 6).attr("height", 23)
  .attr("fill", d => d.c);
bg.selectAll("text").data(boxes).join("text")
  .attr("x", plot.right + 10).attr("y", d => y(d.v) + 12)
  .attr("font-family", FONT).attr("font-size", 18).attr("fill","#fff")
  .text(d => d3.format(".3f")(d.v));

// header
svg.append("path").attr("d","M8,18H18L13,24Z").attr("fill","#000");
svg.append("text").attr("x", 32).attr("y", 27).attr("font-family", FONT).attr("font-size", 18.5)
  .attr("fill","#000").style("white-space","pre")
  .text(symbolTitle + "  " + lastOHLC.map(d3.format(".3f")).join(" "));

// chart-shift marker
svg.append("path").attr("d","M2853,2H2867L2860,9Z").attr("fill","#a8a8a8");

// mouse pointer
svg.append("path").attr("transform","translate(167,992)")
  .attr("d","M0,0V33L8,25L15,38L19,36L13,23H23Z")
  .attr("fill","#fff").attr("stroke","#000").attr("stroke-width",1.2);
</script>
</body></html>
